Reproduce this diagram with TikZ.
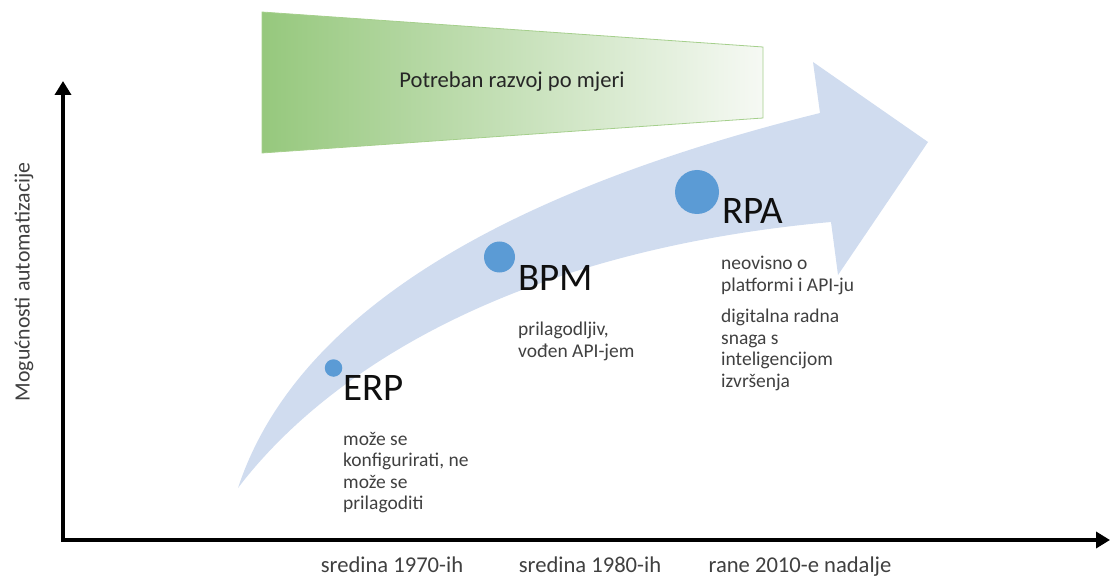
\documentclass[tikz,border=0pt]{standalone}
\usepackage{fontspec}
\setmainfont{Carlito}
\usetikzlibrary{arrows.meta}
\definecolor{arrowblue}{RGB}{208,220,239}
\definecolor{dotblue}{RGB}{91,155,213}
\definecolor{greenL}{RGB}{150,200,125}
\definecolor{greenR}{RGB}{246,249,244}
\definecolor{greenline}{RGB}{165,207,140}
\definecolor{txtdark}{RGB}{38,38,38}
\definecolor{txtgray}{RGB}{64,64,64}
\definecolor{txtblack}{RGB}{15,15,15}
\newcommand{\desclines}[1]{\begin{tabular}[t]{@{}l@{}}#1\end{tabular}}
\begin{document}
\begin{tikzpicture}[x=1pt,y=-1pt,
  dot/.style={circle, fill=dotblue, inner sep=0pt},
  bigtext/.style={anchor=base west, inner sep=0pt, text=txtblack, font=\fontsize{39}{44}\selectfont},
  desctext/.style={anchor=base west, inner sep=0pt, text=txtgray, font=\fontsize{19.5}{21.6}\selectfont},
  axislabel/.style={anchor=base, inner sep=0pt, text=txtgray, font=\fontsize{22.6}{26}\selectfont},
  axisline/.style={line width=3.5pt, line join=miter, {Triangle[length=14pt,width=16pt]}-{Triangle[length=14pt,width=16pt]}}
]
\useasboundingbox (0,0) rectangle (1110,577);

% green trapezoid
\coordinate (g1) at (262,12);
\coordinate (g2) at (763,47);
\coordinate (g3) at (763,118);
\coordinate (g4) at (262,153);
\shade[left color=greenL, right color=greenR] (g1) -- (g2) -- (g3) -- (g4) -- cycle;
\draw[greenline, line width=0.8pt] (g1) -- (g2) -- (g3) -- (g4) -- cycle;
\node[inner sep=0pt, text=txtdark, font=\fontsize{22.6}{26}\selectfont] (need) at (512,82) {Potreban razvoj po mjeri};

% big curved arrow
\coordinate (tail) at (238,488);
\coordinate (shU) at (820,113);
\coordinate (barbU) at (813,62);
\coordinate (tip) at (928,142);
\coordinate (barbL) at (838,275);
\coordinate (shL) at (831,222);
\fill[arrowblue] (tail) .. controls (290,330) and (470,200) .. (shU) -- (barbU) -- (tip) -- (barbL) -- (shL)
  .. controls (500,252) and (320,380) .. (tail) -- cycle;

% dots
\node[dot, minimum size=17.5pt] (erpdot) at (333.5,368) {};
\node[dot, minimum size=31pt] (bpmdot) at (499.5,257) {};
\node[dot, minimum size=44pt] (rpadot) at (697,192) {};

% labels
\node[bigtext] (erp) at (343,400.5) {ERP};
\node[bigtext] (bpm) at (518,290) {BPM};
\node[bigtext] (rpa) at (722,224) {RPA};

\node[desctext] (erpdesc) at (343,445) {\desclines{može se\\konfigurirati, ne\\može se\\prilagoditi}};
\node[desctext] (bpmdesc) at (518,335.5) {\desclines{prilagodljiv,\\vođen API-jem}};
\node[desctext] (rpadescA) at (721,269.5) {\desclines{neovisno o\\platformi i API-ju}};
\node[desctext] (rpadescB) at (721,322.5) {\desclines{digitalna radna\\snaga s\\inteligencijom\\izvršenja}};

% axes
\coordinate (ytop) at (63,81);
\coordinate (O) at (63,540);
\coordinate (xend) at (1110,540);
\draw[axisline] (ytop) -- (O) -- (xend);

\node[inner sep=0pt, rotate=90, text=txtgray, font=\fontsize{21.8}{26}\selectfont] (ylabel) at (24,282) {Mogućnosti automatizacije};

\node[axislabel] (t1) at (392,572.5) {sredina 1970-ih};
\node[axislabel] (t2) at (590,572.5) {sredina 1980-ih};
\node[axislabel] (t3) at (800,572.5) {rane 2010-e nadalje};
\end{tikzpicture}
\end{document}
